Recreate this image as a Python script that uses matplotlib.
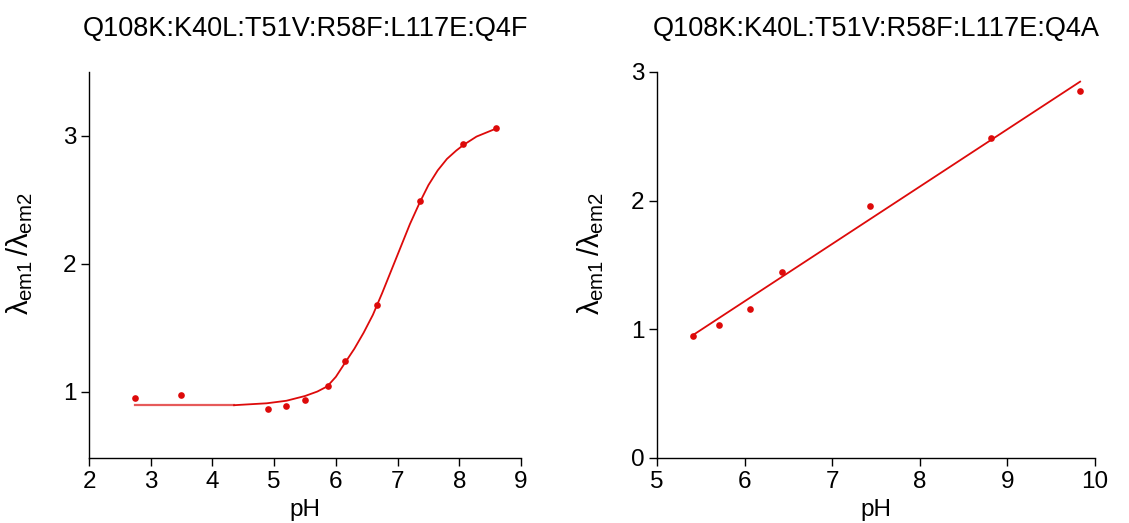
import matplotlib
matplotlib.use("Agg")
import matplotlib.pyplot as plt

plt.rcParams["font.family"] = ["Liberation Sans", "DejaVu Sans"]
plt.rcParams["mathtext.fontset"] = "custom"
plt.rcParams["mathtext.rm"] = "Liberation Sans"
plt.rcParams["mathtext.it"] = "Liberation Sans"

RED = "#dd0a0a"

# Q4F mutant: measured ratios and fitted titration curve
q4f_ph = [2.74, 3.49, 4.90, 5.20, 5.50, 5.87, 6.15, 6.66, 7.36, 8.06, 8.60]
q4f_ratio = [0.95, 0.97, 0.86, 0.885, 0.93, 1.045, 1.235, 1.68, 2.49, 2.935, 3.065]
q4f_fit_ph = [2.74, 4.35, 4.45, 4.88, 5.20, 5.50, 5.70, 5.86, 6.00, 6.15, 6.30,
              6.45, 6.60, 6.75, 6.90, 7.05, 7.20, 7.36, 7.50, 7.65, 7.80, 7.95,
              8.07, 8.28, 8.61]
q4f_fit_ratio = [0.893, 0.893, 0.896, 0.908, 0.928, 0.965, 1.0, 1.04, 1.115, 1.226, 1.335,
                 1.46, 1.60, 1.77, 1.95, 2.13, 2.31, 2.48, 2.615, 2.73, 2.82, 2.885,
                 2.93, 2.995, 3.06]

# Q4A mutant: measured ratios and linear fit
q4a_ph = [5.41, 5.71, 6.06, 6.43, 7.43, 8.81, 9.83]
q4a_ratio = [0.947, 1.033, 1.156, 1.448, 1.957, 2.49, 2.85]
q4a_fit_ph = [5.41, 9.83]
q4a_fit_ratio = [0.955, 2.925]

titles = ["Q108K:K40L:T51V:R58F:L117E:Q4F", "Q108K:K40L:T51V:R58F:L117E:Q4A"]
ylabel = r"$\lambda_{\mathrm{em1}}\,/\lambda_{\mathrm{em2}}$"

fig = plt.figure(figsize=(11.29, 5.23), dpi=100)
ax1 = fig.add_axes([89 / 1129, (523 - 458) / 523, (521 - 89) / 1129, (458 - 72) / 523])
ax2 = fig.add_axes([657 / 1129, (523 - 458) / 523, (1095 - 657) / 1129, (458 - 72) / 523])

# flat baseline of the fit is drawn lighter, as a stippled segment
ax1.plot(q4f_fit_ph[:2], q4f_fit_ratio[:2], color="#e65a5a", lw=1.6, zorder=2)
ax1.plot(q4f_fit_ph[1:], q4f_fit_ratio[1:], color=RED, lw=1.3, zorder=2)
ax1.plot(q4f_ph, q4f_ratio, "o", color=RED, ms=4.8, mec="none", zorder=3)
ax1.set_xlim(2, 9)
ax1.set_ylim(0.48, 3.5)
ax1.set_xticks(range(2, 10))
ax1.set_yticks([1, 2, 3])

ax2.plot(q4a_fit_ph, q4a_fit_ratio, color=RED, lw=1.3, zorder=2)
ax2.plot(q4a_ph, q4a_ratio, "o", color=RED, ms=4.8, mec="none", zorder=3)
ax2.set_xlim(5, 10)
ax2.set_ylim(0, 3)
ax2.set_xticks(range(5, 11))
ax2.set_yticks([0, 1, 2, 3])

label_x = {ax1: -0.125, ax2: -0.116}
for ax, title in zip([ax1, ax2], titles):
    for side in ("top", "right"):
        ax.spines[side].set_visible(False)
    for side in ("left", "bottom"):
        ax.spines[side].set_linewidth(1.0)
    ax.tick_params(direction="out", length=6, width=1.0, labelsize=17.5, pad=3)
    ax.set_xlabel("pH", fontsize=17.5, labelpad=5)
    ax.set_ylabel(ylabel, fontsize=21)
    ax.yaxis.set_label_coords(label_x[ax], 0.53)
    ax.set_title(title, fontsize=19.5, pad=26)

fig.savefig("out.png", dpi=100)
